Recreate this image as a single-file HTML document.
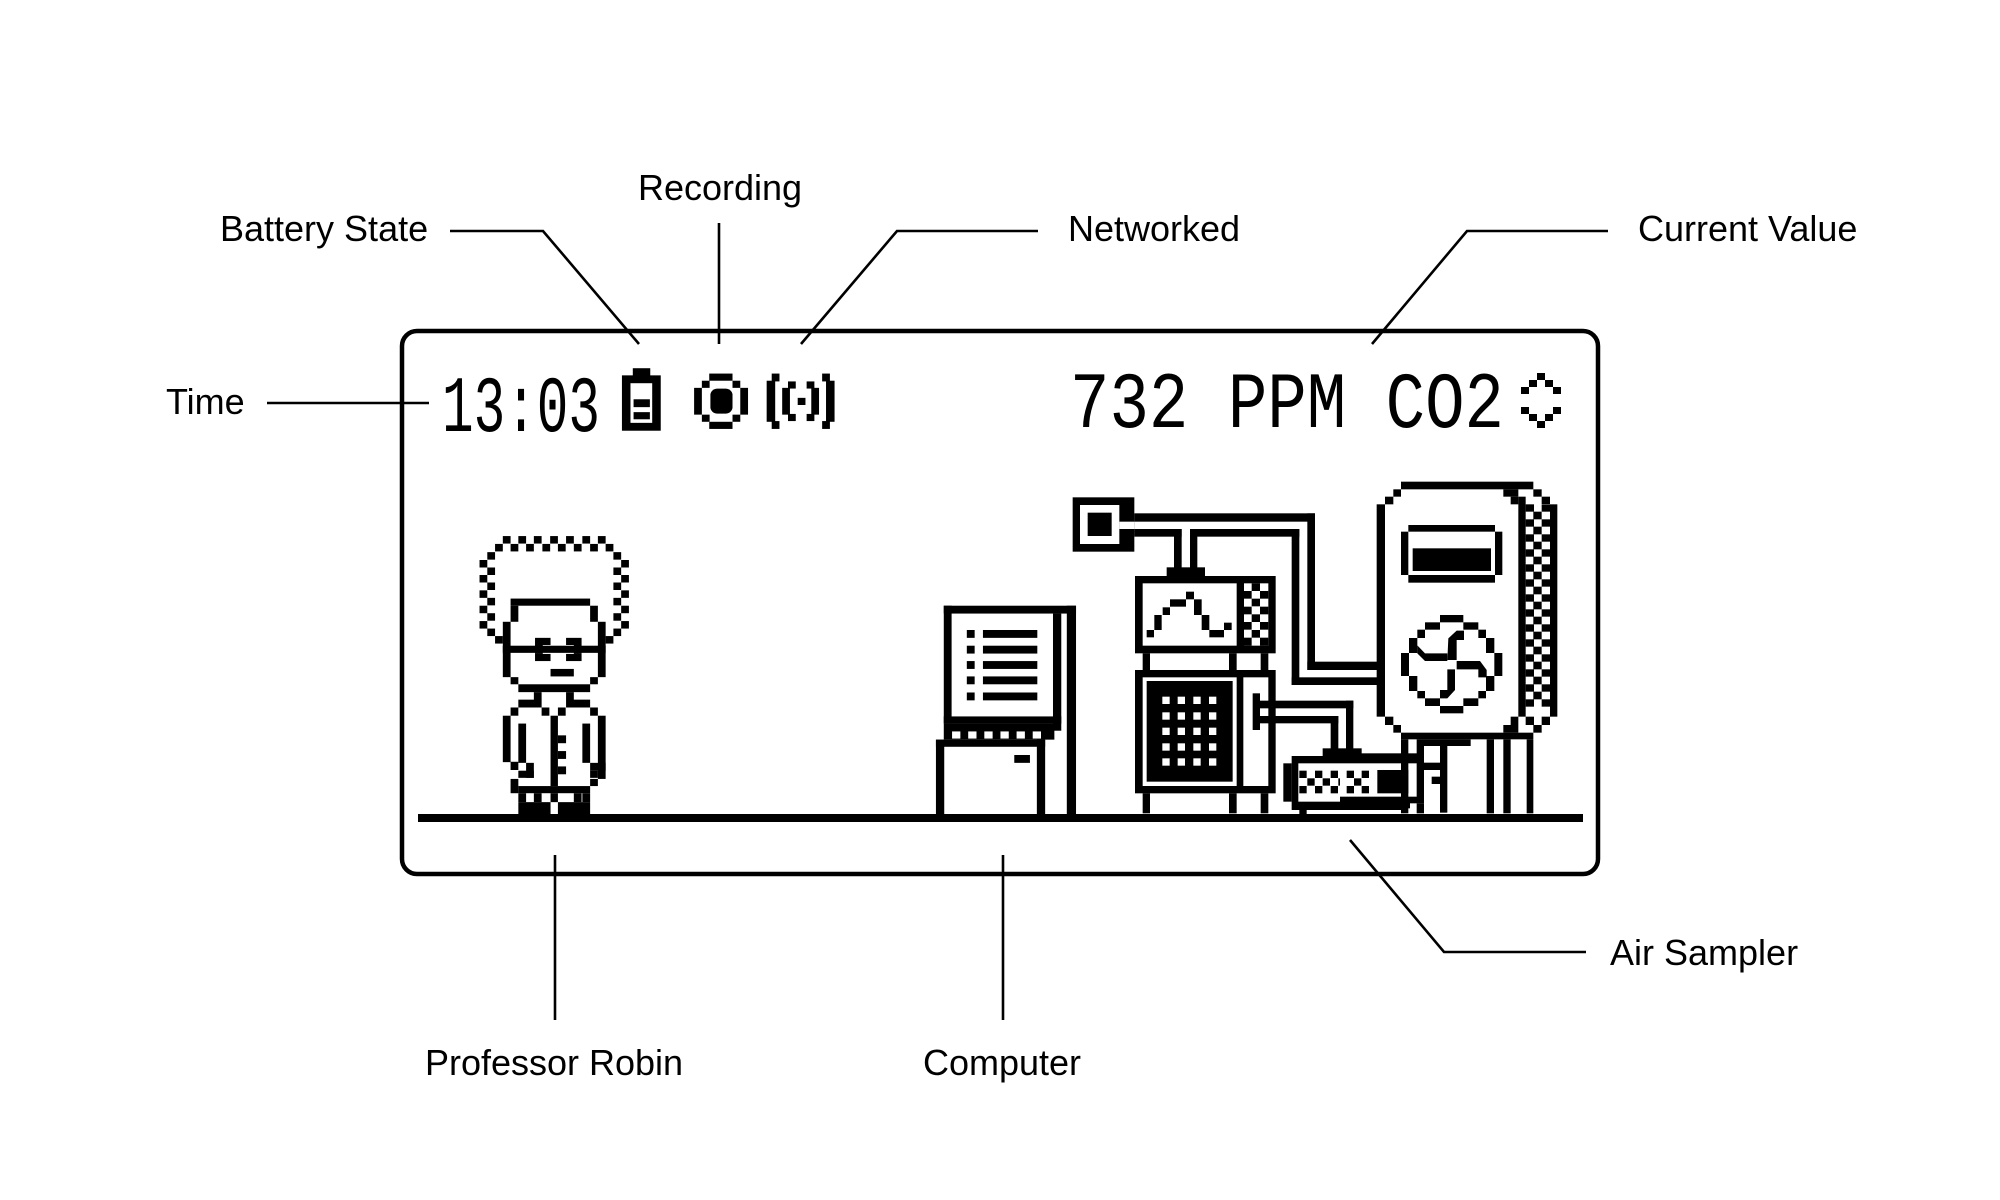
<!DOCTYPE html>
<html><head><meta charset="utf-8"><style>
html,body{margin:0;padding:0;background:#fff;}
svg{display:block;}
.l{font-family:"Liberation Sans",sans-serif;font-size:36px;fill:#000;}
.ln{stroke:#000;stroke-width:2.6;fill:none;}
</style></head><body>
<svg width="2000" height="1200" viewBox="0 0 2000 1200" xmlns="http://www.w3.org/2000/svg">
<rect width="2000" height="1200" fill="#fff"/>
<text class="l" x="220" y="241">Battery State</text>
<text class="l" x="720" y="200" text-anchor="middle">Recording</text>
<text class="l" x="1068" y="241">Networked</text>
<text class="l" x="1638" y="241">Current Value</text>
<text class="l" x="166" y="414">Time</text>
<text class="l" x="554" y="1075" text-anchor="middle">Professor Robin</text>
<text class="l" x="1002" y="1075" text-anchor="middle">Computer</text>
<text class="l" x="1610" y="965">Air Sampler</text>
<polyline class="ln" points="450,231 543,231 639,344"/>
<polyline class="ln" points="719,223 719,344"/>
<polyline class="ln" points="1038,231 897,231 801,344"/>
<polyline class="ln" points="1608,231 1467,231 1372,344"/>
<polyline class="ln" points="267,403 429,403"/>
<polyline class="ln" points="555,855 555,1020"/>
<polyline class="ln" points="1003,855 1003,1020"/>
<polyline class="ln" points="1350,840 1444,952 1586,952"/>
<rect x="402" y="331" width="1196" height="543" rx="15" fill="none" stroke="#000" stroke-width="4.5"/>
<rect x="418" y="814" width="1165" height="8" fill="#000"/>
<text x="442" y="431" font-family="Liberation Mono,monospace" font-size="80" textLength="158" lengthAdjust="spacingAndGlyphs">13:03</text>
<text x="1070" y="427" font-family="Liberation Mono,monospace" font-size="80" textLength="434" lengthAdjust="spacingAndGlyphs">732 PPM CO2</text>
<g fill="#000" transform="translate(-8,0)">
<rect x="1545" y="373" width="8" height="7"/><rect x="1537" y="380" width="8" height="7"/><rect x="1553" y="380" width="8" height="7"/>
<rect x="1529" y="387" width="8" height="7"/><rect x="1561" y="387" width="8" height="7"/>
<rect x="1529" y="407" width="8" height="7"/><rect x="1561" y="407" width="8" height="7"/>
<rect x="1537" y="414" width="8" height="7"/><rect x="1553" y="414" width="8" height="7"/><rect x="1545" y="421" width="8" height="7"/>
</g>
<g transform="translate(400,320) scale(0.388,0.35714)" fill="#000">
<rect x="600" y="135" width="45" height="22"/>
<rect x="572" y="155" width="100" height="155"/>
<rect x="594" y="177" width="56" height="111" fill="#fff"/>
<rect x="602" y="222" width="42" height="22"/><rect x="602" y="258" width="42" height="20"/>
<rect x="797" y="150" width="60" height="20"/><rect x="797" y="285" width="60" height="20"/>
<rect x="758" y="190" width="20" height="75"/><rect x="877" y="190" width="20" height="75"/>
<rect x="778" y="170" width="20" height="20"/><rect x="857" y="170" width="20" height="20"/>
<rect x="778" y="265" width="20" height="20"/><rect x="857" y="265" width="20" height="20"/>
<rect x="800" y="192" width="57" height="70" rx="18"/>
<rect x="945" y="170" width="22" height="115"/><rect x="958" y="150" width="20" height="22"/><rect x="958" y="283" width="20" height="22"/>
<rect x="985" y="190" width="20" height="75"/><rect x="1000" y="172" width="20" height="20"/><rect x="1000" y="263" width="20" height="20"/>
<rect x="1025" y="218" width="20" height="20"/>
<rect x="1098" y="170" width="22" height="115"/><rect x="1088" y="150" width="20" height="22"/><rect x="1088" y="283" width="20" height="22"/>
<rect x="1060" y="190" width="20" height="75"/><rect x="1048" y="172" width="20" height="20"/><rect x="1048" y="263" width="20" height="20"/>
<g>
<rect x="265" y="605" width="20" height="21"/><rect x="305" y="605" width="20" height="21"/><rect x="345" y="605" width="20" height="21"/><rect x="387" y="605" width="20" height="21"/><rect x="428" y="605" width="20" height="21"/><rect x="470" y="605" width="20" height="21"/><rect x="510" y="605" width="20" height="21"/>
<rect x="245" y="627" width="20" height="21"/><rect x="285" y="627" width="20" height="21"/><rect x="325" y="627" width="20" height="21"/><rect x="367" y="627" width="20" height="21"/><rect x="407" y="627" width="20" height="21"/><rect x="448" y="627" width="20" height="21"/><rect x="490" y="627" width="20" height="21"/><rect x="530" y="627" width="20" height="21"/>
<rect x="225" y="650" width="20" height="21"/><rect x="205" y="672" width="20" height="21"/><rect x="225" y="693" width="20" height="21"/><rect x="205" y="714" width="20" height="21"/><rect x="225" y="735" width="20" height="21"/><rect x="205" y="757" width="20" height="21"/><rect x="225" y="778" width="20" height="21"/><rect x="205" y="800" width="20" height="21"/><rect x="225" y="821" width="20" height="21"/><rect x="205" y="843" width="20" height="21"/><rect x="225" y="864" width="20" height="21"/><rect x="245" y="885" width="20" height="21"/>
<rect x="550" y="650" width="20" height="21"/><rect x="570" y="672" width="20" height="21"/><rect x="550" y="693" width="20" height="21"/><rect x="570" y="714" width="20" height="21"/><rect x="550" y="735" width="20" height="21"/><rect x="570" y="757" width="20" height="21"/><rect x="550" y="778" width="20" height="21"/><rect x="570" y="800" width="20" height="21"/><rect x="550" y="821" width="20" height="21"/><rect x="570" y="843" width="20" height="21"/><rect x="550" y="864" width="20" height="21"/><rect x="530" y="885" width="20" height="21"/>
</g>
<rect x="285" y="780" width="205" height="20"/><rect x="285" y="800" width="20" height="45"/><rect x="490" y="800" width="20" height="45"/>
<rect x="265" y="845" width="20" height="155"/><rect x="510" y="845" width="20" height="155"/>
<rect x="285" y="1000" width="20" height="20"/><rect x="490" y="1000" width="20" height="20"/>
<rect x="305" y="1020" width="185" height="22"/>
<rect x="265" y="912" width="265" height="20"/>
<rect x="348" y="890" width="40" height="20"/><rect x="348" y="935" width="40" height="20"/><rect x="428" y="890" width="40" height="20"/><rect x="428" y="935" width="40" height="20"/>
<rect x="348" y="910" width="20" height="25"/><rect x="448" y="910" width="20" height="25"/>
<rect x="388" y="977" width="60" height="21"/>
<rect x="345" y="1042" width="20" height="22"/><rect x="428" y="1042" width="20" height="22"/>
<rect x="305" y="1063" width="60" height="22"/><rect x="428" y="1063" width="62" height="22"/>
<rect x="285" y="1085" width="20" height="23"/><rect x="490" y="1085" width="20" height="23"/>
<rect x="365" y="1085" width="20" height="23"/><rect x="407" y="1085" width="20" height="23"/>
<rect x="265" y="1108" width="20" height="130"/><rect x="510" y="1108" width="20" height="177"/>
<rect x="388" y="1108" width="19" height="197"/>
<rect x="305" y="1130" width="20" height="110"/><rect x="470" y="1130" width="20" height="110"/>
<rect x="407" y="1163" width="21" height="22"/><rect x="407" y="1207" width="21" height="22"/><rect x="407" y="1250" width="21" height="22"/>
<rect x="285" y="1237" width="20" height="23"/><rect x="325" y="1240" width="20" height="42"/><rect x="305" y="1262" width="40" height="20"/>
<rect x="490" y="1240" width="40" height="22"/><rect x="490" y="1262" width="20" height="20"/>
<rect x="285" y="1285" width="20" height="40"/><rect x="305" y="1305" width="185" height="20"/><rect x="490" y="1285" width="20" height="20"/>
<rect x="305" y="1325" width="20" height="25"/><rect x="345" y="1325" width="20" height="25"/><rect x="388" y="1325" width="19" height="25"/><rect x="448" y="1325" width="20" height="25"/><rect x="470" y="1325" width="20" height="25"/>
<rect x="305" y="1350" width="83" height="35"/><rect x="407" y="1350" width="83" height="35"/>
</g>
<g transform="translate(900,320) scale(0.4608,0.35714)" fill="#000">
<rect x="95" y="800" width="287" height="22"/>
<rect x="95" y="800" width="17" height="330"/>
<rect x="332" y="822" width="18" height="328"/>
<rect x="362" y="800" width="20" height="585"/>
<rect x="95" y="1110" width="255" height="20"/>
<rect x="145" y="868" width="17" height="22"/><rect x="180" y="868" width="118" height="22"/>
<rect x="145" y="912" width="17" height="22"/><rect x="180" y="912" width="118" height="22"/>
<rect x="145" y="955" width="17" height="22"/><rect x="180" y="955" width="118" height="22"/>
<rect x="145" y="998" width="17" height="22"/><rect x="180" y="998" width="118" height="22"/>
<rect x="145" y="1043" width="17" height="22"/><rect x="180" y="1043" width="118" height="22"/>
<rect x="95" y="1130" width="240" height="45"/>
<g fill="#fff"><rect x="113" y="1152" width="18" height="20"/><rect x="148" y="1152" width="18" height="20"/><rect x="183" y="1152" width="18" height="20"/><rect x="218" y="1152" width="18" height="20"/><rect x="253" y="1152" width="18" height="20"/><rect x="288" y="1152" width="18" height="20"/></g>
<rect x="78" y="1175" width="237" height="20"/>
<rect x="78" y="1175" width="18" height="210"/><rect x="297" y="1175" width="18" height="210"/>
<rect x="248" y="1218" width="34" height="22"/>
</g>
<g transform="translate(1050,480) scale(0.33333)" fill="#000">
<rect x="68" y="52" width="185" height="163"/>
<rect x="90" y="75" width="118" height="117" fill="#fff"/>
<rect x="113" y="98" width="72" height="70"/>
<rect x="208" y="125" width="45" height="22" fill="#fff"/>
<rect x="253" y="100" width="542" height="25"/>
<rect x="253" y="147" width="142" height="23"/><rect x="420" y="147" width="328" height="23"/>
<rect x="372" y="147" width="23" height="118"/><rect x="420" y="147" width="22" height="118"/>
<rect x="725" y="147" width="23" height="468"/><rect x="772" y="100" width="23" height="470"/>
<rect x="772" y="545" width="213" height="25"/><rect x="725" y="592" width="260" height="23"/>
<rect x="350" y="262" width="115" height="28"/>
<rect x="255" y="288" width="422" height="232"/>
<rect x="278" y="310" width="282" height="187" fill="#fff"/>
<rect x="582" y="310" width="73" height="187" fill="#fff"/>
<rect x="290" y="450" width="22" height="22"/><rect x="313" y="405" width="22" height="45"/><rect x="338" y="382" width="22" height="23"/><rect x="360" y="358" width="48" height="22"/><rect x="408" y="335" width="24" height="23"/><rect x="432" y="358" width="23" height="47"/><rect x="455" y="405" width="23" height="45"/><rect x="478" y="450" width="44" height="22"/><rect x="522" y="428" width="23" height="22"/>
<rect x="605" y="310" width="25" height="23"/><rect x="582" y="333" width="23" height="23"/><rect x="630" y="333" width="25" height="23"/><rect x="605" y="356" width="25" height="23"/><rect x="582" y="380" width="23" height="23"/><rect x="630" y="380" width="25" height="23"/><rect x="605" y="403" width="25" height="23"/><rect x="582" y="426" width="23" height="23"/><rect x="630" y="426" width="25" height="23"/><rect x="605" y="450" width="25" height="23"/><rect x="582" y="473" width="23" height="24"/><rect x="630" y="473" width="25" height="24"/>
<rect x="278" y="520" width="22" height="50"/><rect x="537" y="520" width="23" height="50"/><rect x="632" y="520" width="23" height="50"/>
<rect x="255" y="570" width="422" height="370"/>
<rect x="278" y="592" width="282" height="326" fill="#fff"/>
<rect x="580" y="592" width="75" height="326" fill="#fff"/>
<rect x="290" y="603" width="258" height="302"/>
<g fill="#fff">
<rect x="337" y="650" width="22" height="22"/><rect x="383" y="650" width="22" height="22"/><rect x="430" y="650" width="22" height="22"/><rect x="477" y="650" width="22" height="22"/>
<rect x="337" y="697" width="22" height="22"/><rect x="383" y="697" width="22" height="22"/><rect x="430" y="697" width="22" height="22"/><rect x="477" y="697" width="22" height="22"/>
<rect x="337" y="743" width="22" height="22"/><rect x="383" y="743" width="22" height="22"/><rect x="430" y="743" width="22" height="22"/><rect x="477" y="743" width="22" height="22"/>
<rect x="337" y="790" width="22" height="22"/><rect x="383" y="790" width="22" height="22"/><rect x="430" y="790" width="22" height="22"/><rect x="477" y="790" width="22" height="22"/>
<rect x="337" y="835" width="22" height="22"/><rect x="383" y="835" width="22" height="22"/><rect x="430" y="835" width="22" height="22"/><rect x="477" y="835" width="22" height="22"/>
</g>
<rect x="278" y="940" width="22" height="60"/><rect x="537" y="940" width="23" height="60"/><rect x="632" y="940" width="23" height="60"/>
<rect x="608" y="640" width="22" height="110"/>
<rect x="630" y="662" width="280" height="23"/><rect x="630" y="708" width="235" height="22"/>
<rect x="842" y="708" width="23" height="100"/><rect x="888" y="662" width="22" height="146"/>
<rect x="818" y="805" width="117" height="25"/>
<rect x="725" y="828" width="330" height="162"/>
<rect x="700" y="850" width="25" height="115"/>
<rect x="745" y="850" width="305" height="115" fill="#fff"/>
<g>
<rect x="748" y="872" width="22" height="22"/><rect x="795" y="872" width="22" height="22"/><rect x="842" y="872" width="22" height="22"/><rect x="888" y="872" width="22" height="22"/><rect x="935" y="872" width="22" height="22"/>
<rect x="772" y="895" width="22" height="22"/><rect x="818" y="895" width="22" height="22"/><rect x="865" y="895" width="22" height="22"/><rect x="912" y="895" width="22" height="22"/>
<rect x="748" y="918" width="22" height="22"/><rect x="795" y="918" width="22" height="22"/><rect x="842" y="918" width="22" height="22"/><rect x="888" y="918" width="22" height="22"/><rect x="935" y="918" width="22" height="22"/>
</g>
<rect x="982" y="872" width="75" height="70"/>
<rect x="748" y="990" width="22" height="15"/>
</g>
<g transform="translate(1340,460) scale(0.33333)" fill="#000">
<rect x="0" y="880" width="252" height="150"/>
<rect x="0" y="910" width="230" height="100" fill="#fff"/>
<g><rect x="20" y="932" width="22" height="22"/><rect x="65" y="932" width="22" height="22"/><rect x="42" y="955" width="22" height="22"/><rect x="20" y="978" width="22" height="22"/><rect x="65" y="978" width="22" height="22"/></g>
<rect x="112" y="930" width="93" height="70"/>
<rect x="0" y="1025" width="210" height="20"/>
<rect x="230" y="1030" width="22" height="30"/>
<rect x="183" y="65" width="397" height="23"/>
<rect x="160" y="88" width="23" height="22"/><rect x="135" y="110" width="25" height="23"/>
<rect x="110" y="133" width="25" height="637"/>
<rect x="135" y="770" width="25" height="25"/><rect x="160" y="795" width="23" height="23"/>
<rect x="183" y="818" width="397" height="20"/>
<rect x="490" y="88" width="45" height="22"/><rect x="512" y="110" width="23" height="23"/>
<rect x="535" y="110" width="22" height="660"/>
<rect x="490" y="795" width="45" height="23"/><rect x="512" y="770" width="23" height="25"/>
<rect x="605" y="110" width="25" height="22"/><rect x="630" y="133" width="22" height="637"/>
<g>
<rect x="580" y="88" width="25" height="22"/>
<rect x="557" y="133" width="25" height="22"/><rect x="605" y="133" width="25" height="22"/>
<rect x="580" y="155" width="25" height="23"/>
<rect x="557" y="178" width="25" height="22"/><rect x="605" y="178" width="25" height="22"/>
<rect x="580" y="200" width="25" height="23"/>
<rect x="557" y="223" width="25" height="22"/><rect x="605" y="223" width="25" height="22"/>
<rect x="580" y="245" width="25" height="23"/>
<rect x="557" y="268" width="25" height="22"/><rect x="605" y="268" width="25" height="22"/>
<rect x="580" y="290" width="25" height="23"/>
<rect x="557" y="313" width="25" height="22"/><rect x="605" y="313" width="25" height="22"/>
<rect x="580" y="335" width="25" height="23"/>
<rect x="557" y="358" width="25" height="22"/><rect x="605" y="358" width="25" height="22"/>
<rect x="580" y="380" width="25" height="23"/>
<rect x="557" y="403" width="25" height="22"/><rect x="605" y="403" width="25" height="22"/>
<rect x="580" y="425" width="25" height="23"/>
<rect x="557" y="448" width="25" height="22"/><rect x="605" y="448" width="25" height="22"/>
<rect x="580" y="470" width="25" height="23"/>
<rect x="557" y="493" width="25" height="22"/><rect x="605" y="493" width="25" height="22"/>
<rect x="580" y="515" width="25" height="23"/>
<rect x="557" y="538" width="25" height="22"/><rect x="605" y="538" width="25" height="22"/>
<rect x="580" y="560" width="25" height="23"/>
<rect x="557" y="583" width="25" height="22"/><rect x="605" y="583" width="25" height="22"/>
<rect x="580" y="605" width="25" height="23"/>
<rect x="557" y="628" width="25" height="22"/><rect x="605" y="628" width="25" height="22"/>
<rect x="580" y="650" width="25" height="23"/>
<rect x="557" y="673" width="25" height="22"/><rect x="605" y="673" width="25" height="22"/>
<rect x="580" y="695" width="25" height="23"/>
<rect x="557" y="718" width="25" height="22"/><rect x="605" y="718" width="25" height="22"/>
<rect x="557" y="770" width="25" height="25"/><rect x="605" y="770" width="25" height="25"/>
<rect x="580" y="795" width="25" height="23"/>
</g>
<rect x="205" y="195" width="260" height="20"/><rect x="205" y="345" width="260" height="23"/>
<rect x="183" y="215" width="22" height="130"/><rect x="465" y="215" width="22" height="130"/>
<rect x="218" y="265" width="235" height="68"/>
<rect x="300" y="465" width="70" height="22"/><rect x="300" y="738" width="70" height="22"/>
<rect x="255" y="487" width="45" height="22"/><rect x="370" y="487" width="45" height="22"/>
<rect x="255" y="715" width="45" height="23"/><rect x="370" y="715" width="45" height="23"/>
<rect x="232" y="509" width="23" height="25"/><rect x="415" y="509" width="23" height="25"/>
<rect x="232" y="693" width="23" height="22"/><rect x="415" y="693" width="23" height="22"/>
<rect x="207" y="534" width="25" height="45"/><rect x="438" y="534" width="25" height="45"/>
<rect x="207" y="648" width="25" height="45"/><rect x="438" y="648" width="25" height="45"/>
<rect x="183" y="579" width="24" height="69"/><rect x="463" y="579" width="24" height="69"/>
<polygon points="322,600 325,535 350,512 372,512 372,540 350,540 350,600"/>
<polygon points="350,603 420,603 440,630 440,652 415,652 415,628 350,628"/>
<polygon points="345,628 345,690 322,715 300,715 300,690 322,690 322,628"/>
<polygon points="322,603 255,603 232,580 232,556 255,580 322,580"/>
<rect x="183" y="838" width="22" height="222"/><rect x="230" y="838" width="22" height="70"/>
<rect x="252" y="838" width="140" height="20"/>
<rect x="300" y="858" width="22" height="200"/>
<rect x="252" y="908" width="48" height="22"/><rect x="275" y="950" width="25" height="22"/>
<rect x="440" y="838" width="22" height="222"/><rect x="490" y="838" width="22" height="222"/><rect x="560" y="838" width="20" height="222"/>
</g>
</svg>
</body></html>
